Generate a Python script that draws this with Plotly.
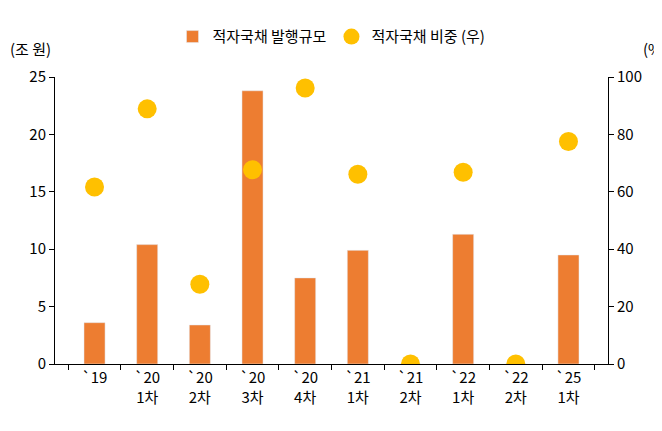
import plotly.graph_objects as go

categories = ["`19", "`20<br>1차", "`20<br>2차", "`20<br>3차", "`20<br>4차", "`21<br>1차", "`21<br>2차", "`22<br>1차", "`22<br>2차", "`25<br>1차"]
issuance = [3.6, 10.4, 3.4, 23.8, 7.5, 9.9, 0, 11.3, 0, 9.5]
share = [61.7, 88.9, 27.8, 67.7, 96.2, 66.1, 0, 66.8, 0, 77.5]

font = "Noto Sans CJK KR"
fig = go.Figure()
fig.add_bar(x=categories, y=issuance, name="적자국채 발행규모", marker_color="#ED7D31", width=0.4)
fig.add_scatter(x=categories, y=share, name="적자국채 비중 (우)", mode="markers", yaxis="y2",
                marker=dict(color="#FFC000", size=19))
fig.update_layout(
    width=662, height=431, plot_bgcolor="white", paper_bgcolor="white",
    margin=dict(l=47, r=62, t=40, b=75),
    font=dict(family=font, size=15, color="black"),
    showlegend=True,
    legend=dict(orientation="h", x=0.5, xanchor="center", y=1.14, yanchor="middle", font=dict(size=15)),
    bargap=0.6,
    xaxis=dict(showline=True, linecolor="black", ticks="outside", tickson="boundaries", ticklen=5, tickcolor="black"),
    yaxis=dict(range=[0, 25], dtick=5, showline=True, linecolor="black", ticks="outside", tickcolor="black", showgrid=False, zeroline=False),
    yaxis2=dict(range=[0, 100], dtick=20, overlaying="y", side="right", showline=True, linecolor="black", ticks="outside", tickcolor="black", showgrid=False, zeroline=False),
    annotations=[
        dict(text="(조 원)", xref="paper", yref="paper", x=-0.085, y=1.1, xanchor="left", yanchor="middle", showarrow=False),
        dict(text="(%)", xref="paper", yref="paper", x=1.11, y=1.1, xanchor="right", yanchor="middle", showarrow=False),
    ],
)
fig.write_html("out.html")
